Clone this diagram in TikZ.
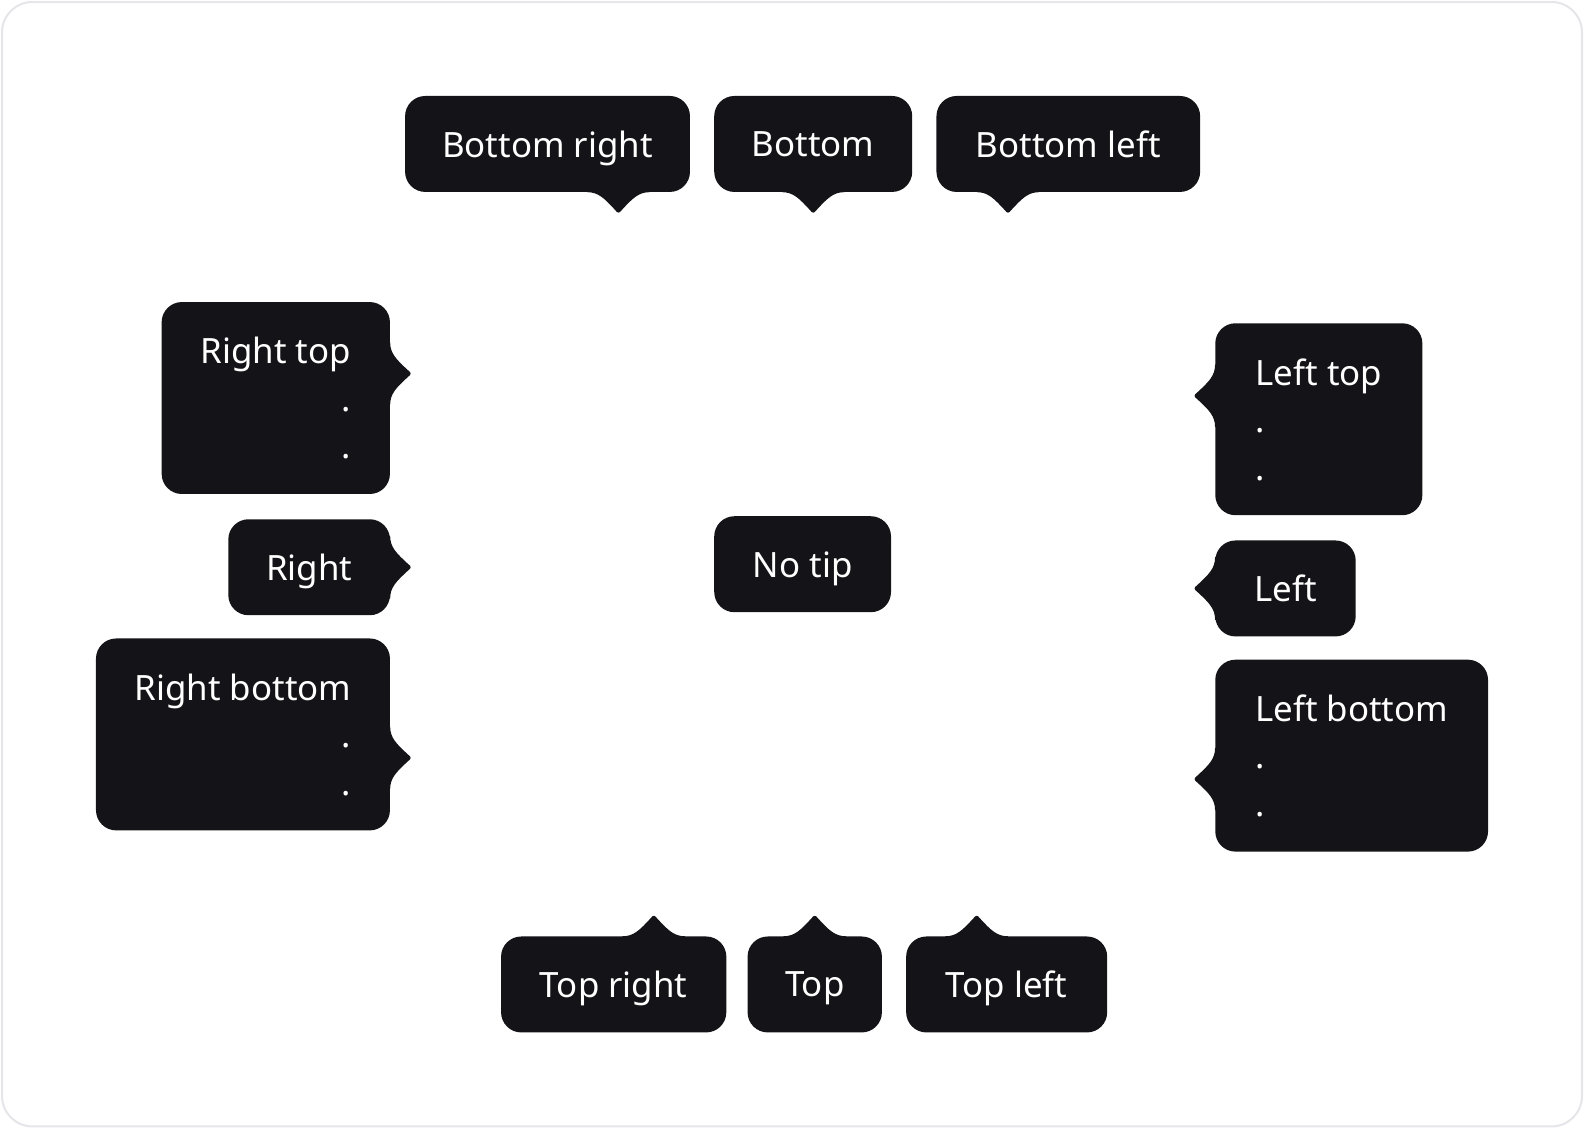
\documentclass[tikz,border=0pt]{standalone}
\usepackage{fontspec}
\setmainfont{Noto Sans}
\definecolor{tipdark}{HTML}{141418}
\definecolor{frame}{HTML}{E5E5EA}
\tikzset{
  tipbox/.style={fill=tipdark, rounded corners=20pt, inner sep=0pt, text=white,
    font=\fontsize{34.5}{47}\selectfont, text depth=0pt, minimum height=95pt},
  tall/.style={minimum height=190pt},
  callouttip/.pic={
    \fill[tipdark] (-31,0) .. controls (-20,0) and (-14,6) .. (-3,18)
      .. controls (-1,21) and (1,21) .. (3,18)
      .. controls (14,6) and (20,0) .. (31,0) -- (31,-4) -- (-31,-4) -- cycle;
  }
}
\begin{document}
\begin{tikzpicture}[x=1pt,y=-1pt]
  % Cadre
  \useasboundingbox (0,0) rectangle (1568,1117);
  \draw[frame, line width=2pt, rounded corners=30pt] (2,2) rectangle (1566,1115);
  % Bulles du haut
  \node[tipbox, minimum width=282pt] (br) at (542,142.5) {Bottom right};
  \node[tipbox, minimum width=196pt] (b) at (805,142.5) {Bottom};
  \node[tipbox, minimum width=261pt] (bl) at (1057.5,142.5) {Bottom left};
  \pic at ([xshift=-71pt]br.south east) {callouttip};
  \pic at (b.south) {callouttip};
  \pic at ([xshift=71pt]bl.south west) {callouttip};
  % Bulles de gauche
  \node[tipbox, tall, minimum width=226pt, align=right] (rt) at (273,394) {Right top\\.\\.};
  \node[tipbox, minimum width=160pt] (r) at (306,561.5) {Right};
  \node[tipbox, tall, minimum width=291pt, align=right] (rb) at (240.5,727) {Right bottom\\.\\.};
  \pic[rotate=90] at ([yshift=-71pt]rt.north east) {callouttip};
  \pic[rotate=90] at (r.east) {callouttip};
  \pic[rotate=90] at ([yshift=72pt]rb.south east) {callouttip};
  % Centre
  \node[tipbox, minimum width=175pt] (nt) at (794.5,558.5) {No tip};
  % Bulles de droite
  \node[tipbox, tall, minimum width=205pt, align=left] (lt) at (1305.5,415) {Left top\\.\\.};
  \node[tipbox, minimum width=139pt] (l) at (1272.5,582.5) {Left};
  \node[tipbox, tall, minimum width=270pt, align=left] (lb) at (1338,748) {Left bottom\\.\\.};
  \pic[rotate=-90] at ([yshift=-72pt]lt.north west) {callouttip};
  \pic[rotate=-90] at (l.west) {callouttip};
  \pic[rotate=-90] at ([yshift=72pt]lb.south west) {callouttip};
  % Bulles du bas
  \node[tipbox, minimum width=223pt] (tr) at (607.5,974.5) {Top right};
  \node[tipbox, minimum width=133pt] (t) at (806.5,974.5) {Top};
  \node[tipbox, minimum width=199pt] (tl) at (996.5,974.5) {Top left};
  \pic[rotate=180] at ([xshift=-72pt]tr.north east) {callouttip};
  \pic[rotate=180] at (t.north) {callouttip};
  \pic[rotate=180] at ([xshift=70pt]tl.north west) {callouttip};
\end{tikzpicture}
\end{document}
